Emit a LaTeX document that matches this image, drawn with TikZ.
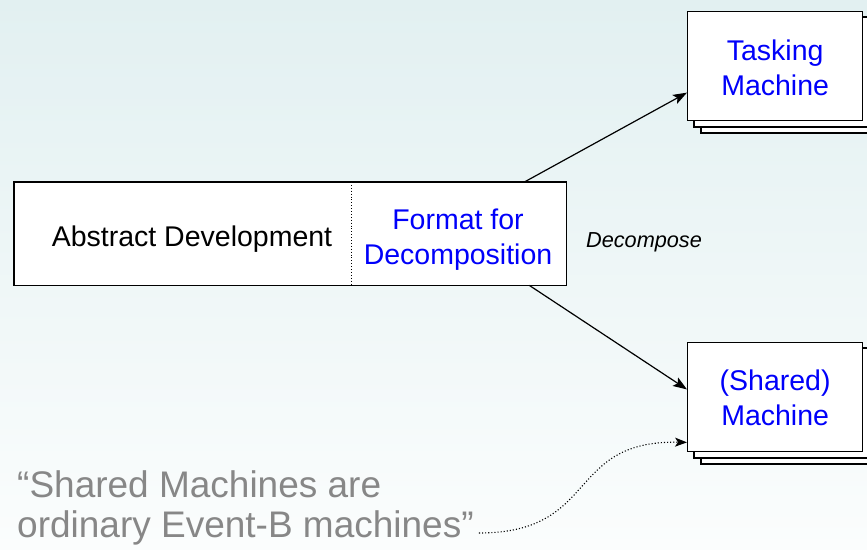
\documentclass[tikz,border=0pt]{standalone}
\usepackage{fontspec}
\setmainfont{Liberation Sans}
\usetikzlibrary{calc,arrows.meta}
\definecolor{bgtop}{RGB}{226,240,241}
\definecolor{bgbot}{RGB}{251,253,253}
\definecolor{txtblue}{RGB}{0,0,250}
\definecolor{quotegray}{RGB}{135,135,135}
\begin{document}
\begin{tikzpicture}[x=1pt,y=-1pt,
  boxfont/.style={font=\fontsize{28.5}{35}\selectfont},
  part/.style={fill=white, inner sep=0pt, anchor=north west, minimum height=103pt},
  machine/.style={draw=black, line width=1.3pt, fill=white, anchor=north west,
    minimum width=175pt, minimum height=109pt, inner sep=0pt},
  machinelbl/.style={boxfont, text=txtblue, align=center, inner sep=0pt},
  backsheet/.style={draw=black, line width=1.3pt, fill=white},
  frame/.style={draw=black, line width=1.3pt},
  flow/.style={draw=black, line width=1.2pt, -{Stealth[length=14pt,width=10pt,inset=3pt]}},
  note/.style={draw=black, line width=1.1pt, dotted, -{Stealth[length=12pt,width=9pt,inset=3pt]}},
  quote/.style={font=\fontsize{37}{40}\selectfont, text=quotegray, inner sep=0pt, anchor=base west}]
\clip (0,0) rectangle (867,549);
\shade[top color=bgtop, bottom color=bgbot] (0,0) rectangle (867,549);

% main development box: abstract part and decomposition format part
\node[part, minimum width=337pt] (abs) at (14,182) {};
\node[part, minimum width=215pt] (fmt) at (351,182) {};
\node[boxfont, inner sep=0pt, anchor=base] (abslbl) at (192,246) {Abstract Development};
\node[boxfont, text=txtblue, inner sep=0pt, anchor=base] (fmtlbl1) at (458,229) {Format for};
\node[boxfont, text=txtblue, inner sep=0pt, anchor=base] (fmtlbl2) at (458,264) {Decomposition};
\draw[frame] (abs.north west) rectangle (fmt.south east);
\draw[black, line width=0.9pt, dotted] (abs.north east) -- (abs.south east);

% stacked machine sheets
\foreach \dy in {0,331}{
  \draw[backsheet] (701,24+\dy) rectangle (880,133+\dy);
  \draw[backsheet] (694,17+\dy) rectangle (873,127+\dy);
}
\node[machine] (task) at (687,11) {};
\node[machine] (shared) at (687,342) {};
\node[machinelbl] (tasklbl) at ($(task.center)+(0,2)$) {Tasking\\Machine};
\node[machinelbl] (sharedlbl) at ($(shared.center)+(0,1)$) {(Shared)\\Machine};

\node[font=\itshape\fontsize{21.7}{26}\selectfont, inner sep=0pt, anchor=base] (dec) at (644,247) {Decompose};

% decomposition arrows
\draw[flow] ($(fmt.north west)!0.805!(fmt.north east)$) -- ($(task.north west)!0.74!(task.south west)$);
\draw[flow] ($(fmt.south west)!0.828!(fmt.south east)$) -- ($(shared.north west)!0.43!(shared.south west)$);

% remark
\node[quote] (q1) at (17,497) {“Shared Machines are};
\node[quote] (q2) at (17,537) {ordinary Event-B machines”};
\coordinate (qend) at ($(q2.base east)+(5,-4)$);
\draw[note] (qend) .. controls (600,533) and (565,440) .. ($(shared.north west)!0.91!(shared.south west)$);
\end{tikzpicture}
\end{document}
